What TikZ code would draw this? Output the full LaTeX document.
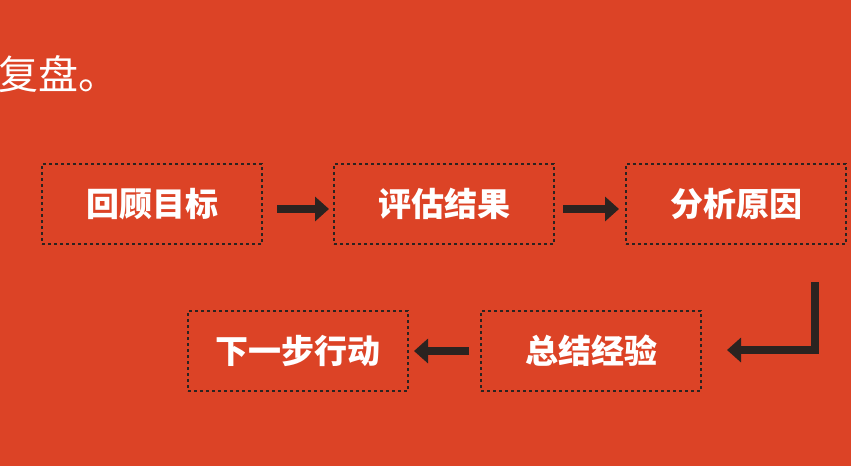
\documentclass[tikz,border=0pt]{standalone}
\usepackage{fontspec}
\setmainfont{Noto Sans CJK SC}
\usetikzlibrary{arrows.meta}
\definecolor{bg}{HTML}{DC4326}
\definecolor{dk}{HTML}{2B2320}
\begin{document}
\begin{tikzpicture}[x=1pt,y=-1pt,
  box/.style={draw=dk,dashed,line width=1.2pt,minimum width=220pt,minimum height=80pt,text=white,font=\fontsize{33}{33}\bfseries\selectfont},
  arr/.style={dk,line width=8pt,-{Triangle[length=14pt,width=24pt]}}]
\fill[bg] (0,0) rectangle (851,466);
\useasboundingbox (0,0) rectangle (851,466);
\node[text=white,anchor=west,font=\fontsize{40}{40}\selectfont] (t) at (-5,74) {复盘。};
\node[box] (a) at (152,204) {回顾目标};
\node[box] (b) at (444,204) {评估结果};
\node[box] (c) at (736,204) {分析原因};
\node[box] (d) at (298,351) {下一步行动};
\node[box] (e) at (591,351) {总结经验};
\coordinate (b1) at (277,209);
\coordinate (b2) at (329,209);
\coordinate (c1) at (563,209);
\coordinate (c2) at (619,209);
\coordinate (d1) at (469,351);
\coordinate (d2) at (414,351);
\coordinate (e1) at (815,282);
\coordinate (e2) at (727,350);
\draw[arr] (b1) -- (b2);
\draw[arr] (c1) -- (c2);
\draw[arr] (d1) -- (d2);
\draw[arr] (e1) |- (e2);
\end{tikzpicture}
\end{document}
